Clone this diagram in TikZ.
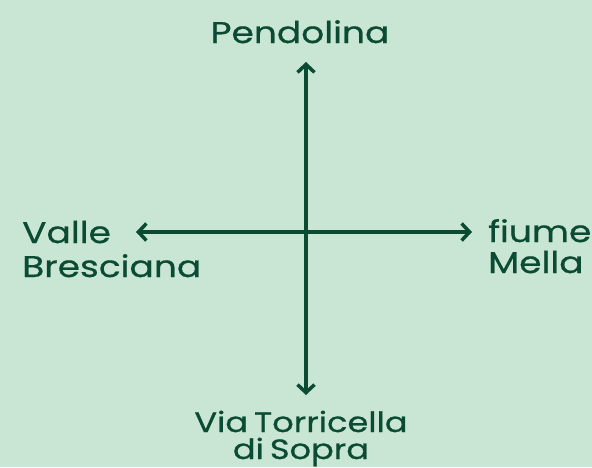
\documentclass[tikz,border=0pt]{standalone}
\usepackage{fontspec}
\setmainfont{Poppins}[FakeStretch=1.2,FakeBold=0.6]
\usetikzlibrary{arrows.meta}
\definecolor{bg}{HTML}{C8E6D3}
\definecolor{ink}{HTML}{0B4A33}
\begin{document}
\begin{tikzpicture}[x=1pt,y=-1pt,
  lbl/.style={font=\fontsize{30}{32}\selectfont, text=ink, inner sep=0pt},
  axis/.style={draw=ink, line width=3.5pt, line cap=round,
    -{Straight Barb[length=8pt,width=17pt,line width=3.5pt]}}]
\fill[bg] (0,0) rectangle (592,467);
\useasboundingbox (0,0) rectangle (592,467);
\coordinate (c) at (306,232);
\node[lbl, anchor=base] (top) at (300,43) {Pendolina};
\node[lbl, font=\fontsize{30}{34}\selectfont, anchor=base west, align=left] (left) at (22,277) {Valle\\Bresciana};
\node[lbl, font=\fontsize{30}{31}\selectfont, anchor=base west, align=left] (right) at (488,273) {fiume\\Mella};
\node[lbl, font=\fontsize{28}{27}\selectfont, anchor=base, align=center] (bottom) at (301,459) {Via\hspace{6pt}Torricella\\di\hspace{6pt}Sopra};
\coordinate (tN) at (306,62);
\coordinate (tS) at (306,395);
\coordinate (tW) at (136,232);
\coordinate (tE) at (472,232);
\draw[axis] (c) -- (tN);
\draw[axis] (c) -- (tS);
\draw[axis] (c) -- (tW);
\draw[axis] (c) -- (tE);
\end{tikzpicture}
\end{document}
